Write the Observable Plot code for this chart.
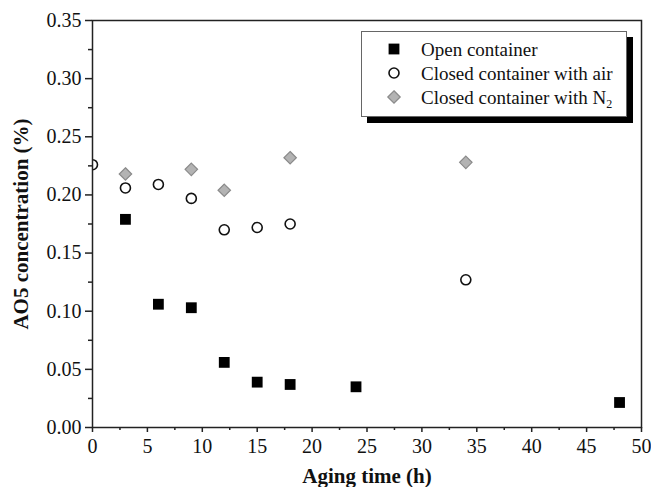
<!DOCTYPE html>
<html><head><meta charset="utf-8">
<script src="https://cdn.jsdelivr.net/npm/d3@7"></script>
<script src="https://cdn.jsdelivr.net/npm/@observablehq/plot@0.6"></script>
<style>body{margin:0;background:#fff}</style>
</head><body><div id="chart"></div>
<script>
const openTime = [3, 6, 9, 12, 15, 18, 24, 48];
const openConc = [0.179, 0.106, 0.103, 0.056, 0.039, 0.037, 0.035, 0.0215];
const airTime = [0, 3, 6, 9, 12, 15, 18, 34];
const airConc = [0.226, 0.206, 0.209, 0.197, 0.170, 0.172, 0.175, 0.127];
const n2Time = [3, 9, 12, 18, 34];
const n2Conc = [0.218, 0.222, 0.204, 0.232, 0.228];
const xTicks = [0, 5, 10, 15, 20, 25, 30, 35, 40, 45, 50];
const xMinor = [2.5, 7.5, 12.5, 17.5, 22.5, 27.5, 32.5, 37.5, 42.5, 47.5];
const yTicks = [0, 0.05, 0.10, 0.15, 0.20, 0.25, 0.30, 0.35];
const yMinor = [0.025, 0.075, 0.125, 0.175, 0.225, 0.275, 0.325];
const seriesNames = ["Open container", "Closed container with air", "Closed container with N"];

const toRows = (xs, ys) => xs.map((x, i) => ({x, y: ys[i]}));
const openData = toRows(openTime, openConc);
const airData = toRows(airTime, airConc);
const n2Data = toRows(n2Time, n2Conc);

const FONT = "'Liberation Serif', 'Times New Roman', serif";

const chart = Plot.plot({
  width: 651,
  height: 487,
  marginLeft: 92,
  marginRight: 10,
  marginTop: 20,
  marginBottom: 60,
  style: {fontFamily: FONT, fontSize: "20px", color: "#111", background: "#fff"},
  x: {domain: [0, 50], label: null},
  y: {domain: [0, 0.35], label: null},
  marks: [
    Plot.dot(n2Data, {x: "x", y: "y", symbol: "diamond2", r: 5.6, fill: "#b3b3b3", stroke: "#8a8a8a", strokeWidth: 1.2, clip: true}),
    Plot.dot(airData, {x: "x", y: "y", symbol: "circle", r: 5, fill: "#fff", stroke: "#111", strokeWidth: 1.6, clip: true}),
    Plot.dot(openData, {x: "x", y: "y", symbol: "square", r: 6.1, fill: "#000", stroke: "none", clip: true}),
    Plot.frame({stroke: "#222", strokeWidth: 1.5}),
    Plot.axisX({ticks: xTicks, tickSize: 5, tickPadding: 6, tickFormat: d => String(d), label: null, strokeWidth: 1.5, stroke: "#222", fontSize: 20}),
    Plot.axisX({ticks: xMinor, tickSize: 3, text: null, label: null, strokeWidth: 1.5, stroke: "#222"}),
    Plot.axisY({ticks: yTicks, tickSize: 7, tickPadding: 4, tickFormat: d3.format(".2f"), label: null, strokeWidth: 1.5, stroke: "#222", fontSize: 20}),
    Plot.axisY({ticks: yMinor, tickSize: 4, text: null, label: null, strokeWidth: 1.5, stroke: "#222"}),
    Plot.text(["Aging time (h)"], {frameAnchor: "bottom", dy: 55, fontWeight: "bold", fontSize: 21, fill: "#111"}),
    Plot.text(["AO5 concentration (%)"], {frameAnchor: "left", textAnchor: "middle", dx: -71, rotate: -90, fontWeight: "bold", fontSize: 21, fill: "#111"})
  ]
});

// Legend
const svg = d3.select(chart);
const lg = svg.append("g").attr("font-family", FONT).attr("font-size", 19).attr("fill", "#111").attr("text-anchor", "start");
lg.append("rect").attr("x", 367).attr("y", 37).attr("width", 266).attr("height", 86).attr("fill", "#000");
lg.append("rect").attr("x", 361.5).attr("y", 31.5).attr("width", 265).attr("height", 85).attr("fill", "#fff").attr("stroke", "#666").attr("stroke-width", 1);
const rowsY = [49, 73, 97];
const symPath = (type, size) => d3.symbol(type, size)();
lg.append("path").attr("transform", `translate(394,${rowsY[0]})`).attr("d", symPath(d3.symbolSquare, Math.PI * 6.1 * 6.1)).attr("fill", "#000");
lg.append("path").attr("transform", `translate(394,${rowsY[1]})`).attr("d", symPath(d3.symbolCircle, Math.PI * 25)).attr("fill", "#fff").attr("stroke", "#111").attr("stroke-width", 1.6);
lg.append("path").attr("transform", `translate(394,${rowsY[2]})`).attr("d", symPath(d3.symbolDiamond2, Math.PI * 5.6 * 5.6)).attr("fill", "#b3b3b3").attr("stroke", "#8a8a8a").attr("stroke-width", 1.2);
seriesNames.forEach((name, i) => {
  const t = lg.append("text").attr("x", 421).attr("y", rowsY[i]).attr("dy", "0.35em").attr("text-anchor", "start").text(name);
  if (i === 2) t.append("tspan").attr("dy", "0.35em").attr("font-size", 12).text("2");
});

document.getElementById("chart").appendChild(chart);
</script>
</body></html>
